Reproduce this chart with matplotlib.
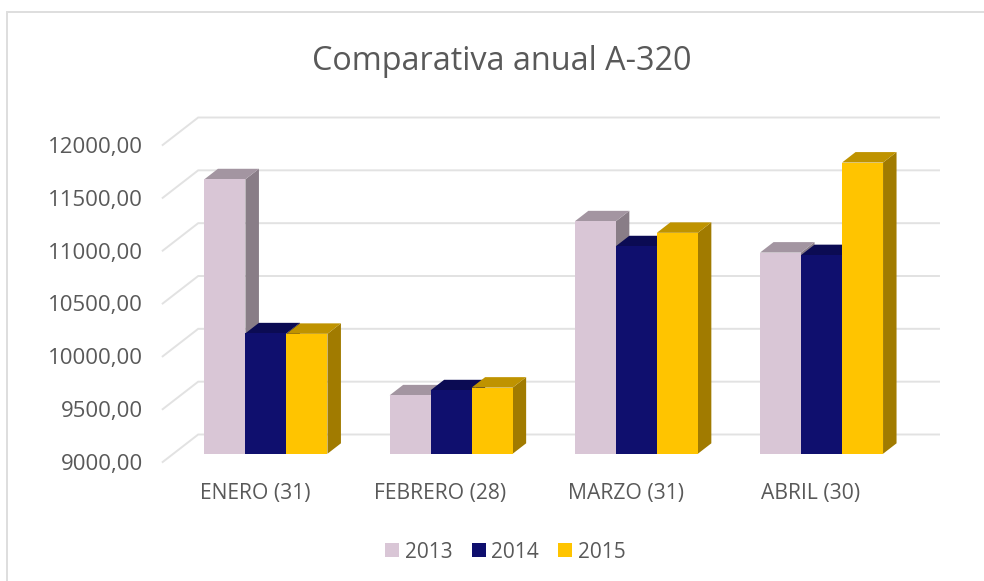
import matplotlib
matplotlib.use("Agg")
import matplotlib.pyplot as plt
from matplotlib.patches import Polygon, Patch, Rectangle

categories = ["ENERO (31)", "FEBRERO (28)", "MARZO (31)", "ABRIL (30)"]
years = ["2013", "2014", "2015"]
v2013 = [11598, 9553, 11200, 10904]
v2014 = [10140, 9601, 10964, 10880]
v2015 = [10135, 9626, 11091, 11756]
series = [v2013, v2014, v2015]
colors = ["#D9C6D6", "#0F0F6E", "#FFC400"]
yticks = [9000, 9500, 10000, 10500, 11000, 11500, 12000]
ylabels = ["9000,00", "9500,00", "10000,00", "10500,00", "11000,00", "11500,00", "12000,00"]

W, H = 984, 581
plt.rcParams["font.family"] = ["Open Sans", "DejaVu Sans"]
fig = plt.figure(figsize=(W / 100, H / 100), dpi=100)
fig.patch.set_facecolor("white")
fig.add_artist(Rectangle((6.5 / W, -0.02), 980 / W, 1 - 12 / H + 0.02, transform=fig.transFigure,
                         fc="white", ec="#DEDEDE", lw=1.4, zorder=-1))

# front plane of the oblique projection
L, R, T, B = 162.7, 903.5, 145.0, 462.0
ax = fig.add_axes([L / W, 1 - B / H, (R - L) / W, (B - T) / H])
ax.set_xlim(0, 4)
ax.set_ylim(9000, 12000)
ax.patch.set_alpha(0)
for s in ax.spines.values():
    s.set_visible(False)

DX = 35.5 * 4 / (R - L)         # full depth, x data units
DY = 27.5 * 3000 / (B - T)      # full depth, value units
z0, z1 = 0.30, 0.68             # bar front/back depth
bw = 41.0 * 4 / (R - L)

def P(x, y, z):
    return (x + DX * z, y + DY * z)

grid = "#E2E2E2"
for t in yticks:
    xs = [P(0, t, 0)[0], P(0, t, 1)[0], P(4, t, 1)[0]]
    ys = [P(0, t, 0)[1], P(0, t, 1)[1], P(4, t, 1)[1]]
    ax.plot(xs, ys, color=grid, lw=1.4, clip_on=False, zorder=1, solid_joinstyle="miter")

def shade(c, f):
    r, g, b = matplotlib.colors.to_rgb(c)
    return (r * f, g * f, b * f)

z = 2
for i in range(len(categories)):
    x0 = i + 0.5 - 1.5 * bw
    for j, vals in enumerate(series):
        xa, xb = x0 + j * bw, x0 + (j + 1) * bw
        v = vals[i]
        base = yticks[0]
        side = [P(xb, base, z0), P(xb, v, z0), P(xb, v, z1), P(xb, base, z1)]
        top = [P(xa, v, z0), P(xb, v, z0), P(xb, v, z1), P(xa, v, z1)]
        front = [P(xa, base, z0), P(xb, base, z0), P(xb, v, z0), P(xa, v, z0)]
        for pts, f in ((side, 0.63), (top, 0.75), (front, 1.0)):
            ax.add_patch(Polygon(pts, closed=True, fc=shade(colors[j], f), ec="none",
                                 clip_on=False, zorder=z))
            z += 1

txt = "#595959"
ax.set_yticks(yticks)
ax.set_yticklabels(ylabels, fontsize=16, color=txt)
ax.set_xticks([i + 0.5 for i in range(4)])
ax.set_xticklabels(categories, fontsize=15.2, color=txt)
ax.tick_params(axis="both", length=0)
ax.tick_params(axis="y", pad=14)
ax.tick_params(axis="x", pad=15)
ax.grid(False)

fig.text(502 / W, 1 - 61 / H, "Comparativa anual A-320", ha="center", va="center",
         fontsize=23.3, color=txt)

handles = [Patch(fc=c, ec="none", label=y) for c, y in zip(colors, years)]
fig.legend(handles=handles, loc="center", bbox_to_anchor=(505.5 / W, 1 - 552 / H), ncol=3,
           frameon=False, fontsize=15, labelcolor=txt, handlelength=0.67, handleheight=0.67,
           handletextpad=0.28, columnspacing=0.9)

fig.savefig("out.png", dpi=100)
